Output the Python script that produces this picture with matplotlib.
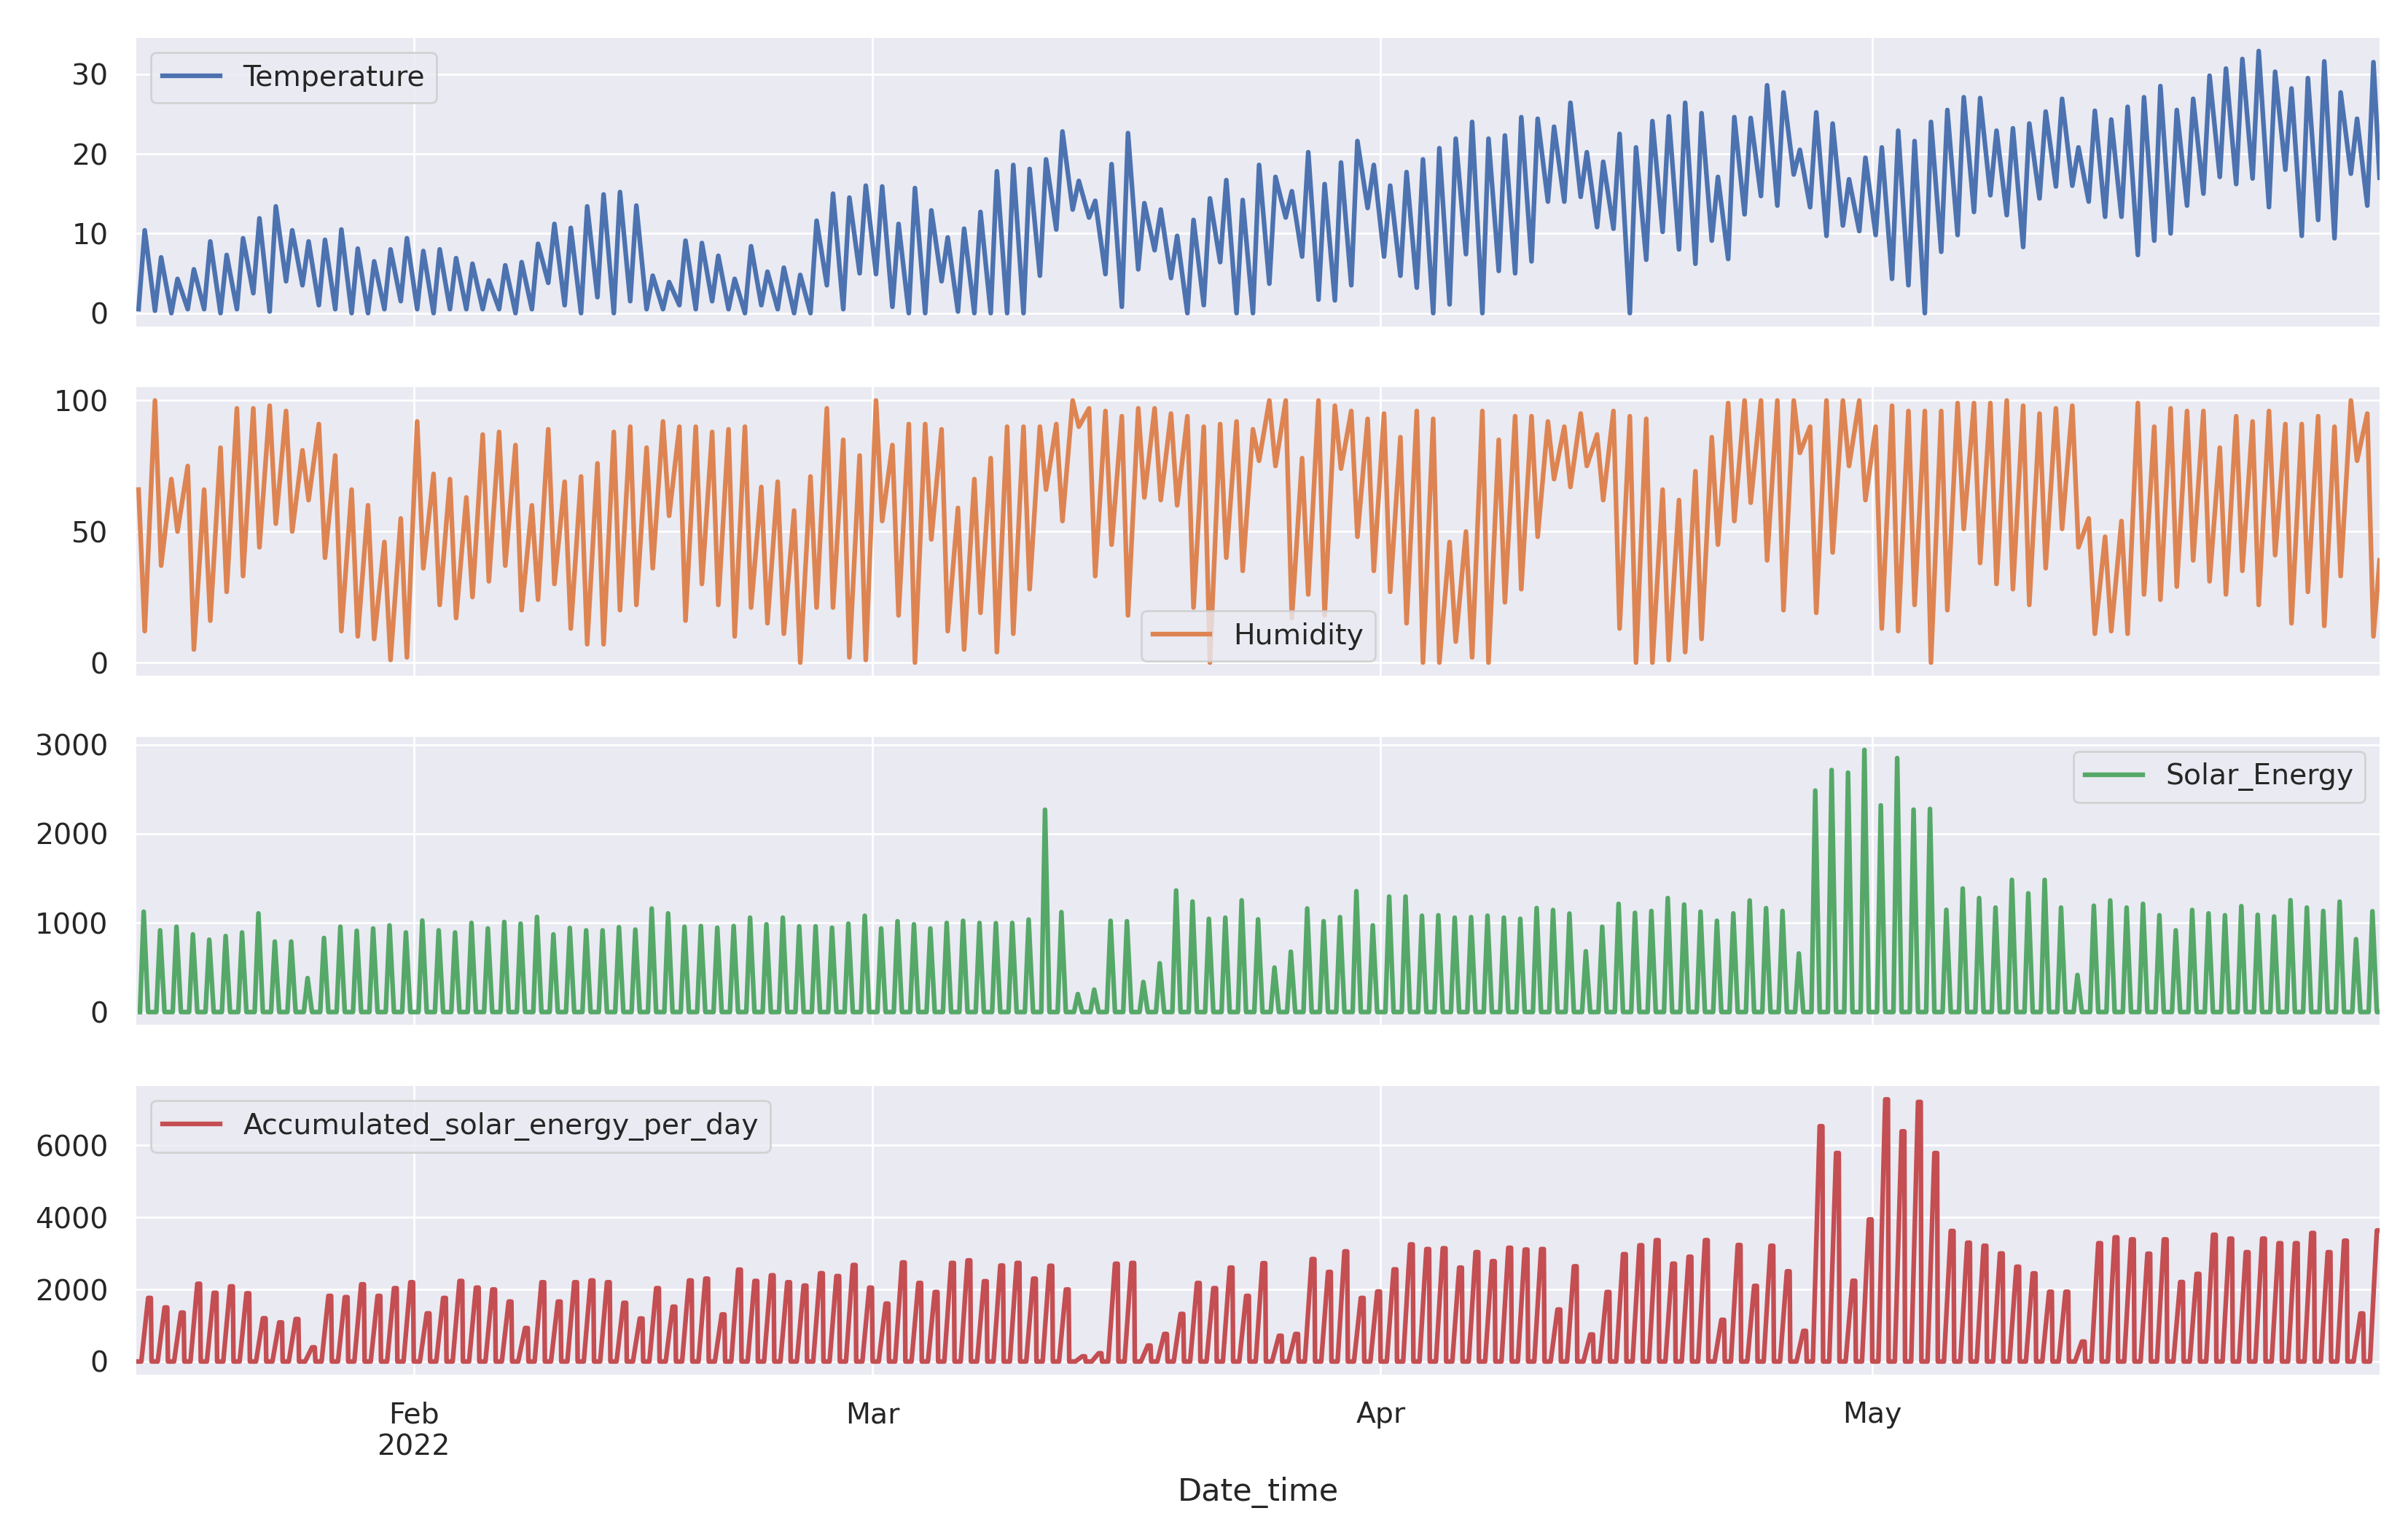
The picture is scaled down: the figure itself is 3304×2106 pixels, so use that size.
import numpy as np
import pandas as pd
import matplotlib
matplotlib.use('Agg')
import matplotlib.pyplot as plt
import matplotlib.dates as mdates
from matplotlib.ticker import FuncFormatter

# One value per day, 15 Jan 2022 .. 31 May 2022
temp_min = [0.5, 0.3, 0, 0.5, 0.5, 0, 0.5, 2.5, 0.2, 4.0,
            3.5, 1.0, 0.5, 0, 0, 0.5, 1.5, 0.5, 0, 0.5,
            0.5, 0.5, 0.5, 0, 0.5, 3.8, 1.0, 0, 2.0, 0,
            1.5, 0.5, 0.5, 1.0, 0.5, 1.5, 0.5, 0, 1.0, 0.5,
            0, 0, 3.5, 0.5, 5.0, 4.9, 0.8, 0, 0, 4.0,
            0.2, 0, 0, 0, 0, 4.7, 10.5, 13.0, 12.0, 4.9,
            0.8, 5.5, 7.9, 4.4, 0, 1.0, 6.4, 0, 0, 3.7,
            12.0, 7.1, 1.7, 1.6, 3.5, 13.2, 7.1, 4.7, 3.2, 0,
            1.1, 7.4, 0, 5.3, 5.0, 6.5, 14.0, 14.0, 14.6, 10.8,
            10.6, 0, 6.7, 10.2, 8.0, 6.2, 9.1, 6.8, 12.4, 14.7,
            13.5, 17.4, 13.3, 9.7, 11.0, 10.3, 9.8, 4.3, 3.5, 0,
            7.7, 9.8, 12.7, 14.8, 12.3, 8.3, 14.4, 15.9, 16.0, 14.0,
            12.1, 12.1, 7.3, 9.1, 10.0, 13.5, 15.0, 17.1, 16.2, 16.9,
            13.3, 18.0, 9.7, 11.7, 9.4, 17.5, 13.5]
temp_max = [10.4, 7.0, 4.3, 5.5, 9.0, 7.3, 9.4, 11.9, 13.4, 10.4,
            9.0, 9.2, 10.5, 8.1, 6.5, 8.0, 9.4, 7.8, 8.0, 6.9,
            6.2, 4.1, 6.0, 6.4, 8.7, 11.2, 10.7, 13.4, 14.9, 15.2,
            13.5, 4.7, 3.9, 9.1, 8.8, 7.2, 4.3, 8.4, 5.2, 5.7,
            4.8, 11.6, 15.0, 14.5, 16.0, 15.9, 11.2, 15.7, 12.9, 9.5,
            10.6, 12.7, 17.8, 18.6, 18.1, 19.3, 22.8, 16.6, 14.1, 18.7,
            22.6, 13.8, 13.0, 9.7, 11.7, 14.4, 16.7, 14.2, 18.6, 17.1,
            15.3, 20.2, 16.2, 18.9, 21.6, 18.6, 16.0, 17.7, 19.3, 20.7,
            21.9, 24.0, 21.9, 22.3, 24.6, 24.4, 23.4, 26.4, 20.2, 19.0,
            22.5, 20.8, 24.1, 24.7, 26.4, 25.1, 17.1, 24.6, 24.5, 28.6,
            27.7, 20.5, 25.2, 23.8, 16.8, 19.5, 20.8, 22.9, 21.6, 24.0,
            25.5, 27.1, 27.0, 22.9, 23.2, 23.8, 25.3, 26.9, 20.8, 25.4,
            24.3, 25.9, 27.1, 28.5, 25.5, 26.9, 29.8, 30.7, 31.9, 32.9,
            30.3, 28.2, 29.5, 31.6, 27.7, 24.4, 31.5]
temp_end = 17.0

hum_max = [66, 100, 70, 75, 66, 82, 97, 97, 98, 96,
           81, 91, 79, 66, 60, 46, 55, 92, 72, 70,
           63, 87, 88, 83, 60, 89, 69, 71, 76, 88,
           90, 82, 92, 90, 90, 88, 89, 90, 67, 69,
           58, 71, 97, 85, 79, 100, 83, 91, 91, 89,
           59, 70, 78, 90, 90, 90, 91, 100, 97, 96,
           94, 97, 97, 95, 94, 90, 91, 92, 89, 100,
           100, 78, 100, 98, 96, 93, 95, 86, 96, 93,
           46, 50, 96, 85, 94, 94, 92, 90, 95, 87,
           96, 94, 93, 66, 62, 73, 86, 99, 100, 100,
           100, 100, 90, 100, 100, 100, 90, 98, 96, 96,
           96, 99, 99, 99, 100, 98, 95, 97, 98, 55,
           48, 54, 99, 90, 97, 96, 96, 82, 94, 92,
           96, 91, 91, 94, 90, 100, 95]
hum_min = [12, 37, 50, 5, 16, 27, 33, 44, 53, 50,
           62, 40, 12, 10, 9, 1, 2, 36, 22, 17,
           25, 31, 37, 20, 24, 30, 13, 7, 7, 20,
           22, 36, 56, 16, 30, 22, 10, 21, 15, 11,
           0, 21, 21, 2, 1, 54, 18, 0, 47, 12,
           5, 19, 4, 11, 28, 66, 54, 90, 33, 45,
           18, 63, 62, 60, 21, 0, 40, 35, 77, 75,
           17, 26, 18, 74, 48, 35, 27, 15, 0, 0,
           8, 2, 0, 23, 28, 48, 70, 67, 75, 62,
           13, 0, 0, 1, 4, 9, 45, 54, 61, 39,
           20, 80, 19, 42, 75, 62, 13, 12, 22, 0,
           20, 51, 38, 30, 28, 22, 36, 51, 44, 11,
           12, 11, 26, 24, 29, 39, 31, 26, 35, 22,
           41, 15, 27, 14, 33, 77, 10]
hum_end = 39

solar_peak = [1126, 917, 957, 871, 812, 853, 893, 1107, 791, 791,
              381, 831, 957, 912, 938, 973, 893, 1027, 917, 893,
              1000, 938, 1011, 992, 1067, 871, 944, 917, 917, 952,
              925, 1161, 1107, 957, 965, 946, 965, 1059, 984, 1059,
              962, 962, 946, 992, 1080, 938, 1019, 984, 938, 1000,
              1024, 1000, 997, 1000, 1038, 2270, 1121, 202, 251, 1024,
              1019, 337, 547, 1364, 1240, 1046, 1059, 1253, 1040, 499,
              677, 1162, 1019, 1065, 1356, 973, 1296, 1296, 1081, 1086,
              1059, 1065, 1081, 1059, 1046, 1167, 1145, 1105, 682, 957,
              1214, 1113, 1134, 1279, 1206, 1126, 1024, 1107, 1252, 1166,
              1134, 657, 2485, 2716, 2686, 2941, 2319, 2850, 2271, 2279,
              1147, 1386, 1279, 1172, 1483, 1332, 1483, 1172, 416, 1193,
              1252, 1172, 1214, 1086, 917, 1145, 1107, 1086, 1188, 1091,
              1072, 1255, 1172, 1134, 1239, 818, 1131]

acc_solar = [1764, 1500, 1357, 2157, 1907, 2086, 1893, 1200, 1086, 1179,
             393, 1821, 1786, 2143, 1821, 2036, 2200, 1336, 1764, 2236,
             2050, 2000, 1664, 929, 2200, 1664, 2200, 2250, 2200, 1629,
             1193, 2036, 1521, 2250, 2300, 1307, 2550, 2236, 2393, 2200,
             2107, 2450, 2371, 2679, 2050, 1607, 2750, 2180, 1929, 2736,
             2807, 2229, 2664, 2736, 2300, 2657, 2000, 143, 229, 2714,
             2736, 443, 764, 1321, 2179, 2036, 2607, 1821, 2729, 714,
             764, 2843, 2486, 3057, 1764, 1943, 2557, 3250, 3121, 3143,
             2607, 3036, 2786, 3157, 3107, 3121, 1443, 2643, 750, 1929,
             2979, 3227, 3369, 2716, 2908, 3369, 1156, 3234, 2099, 3213,
             2504, 851, 6532, 5787, 2241, 3943, 7277, 6390, 7206, 5787,
             3624, 3298, 3213, 3000, 2631, 2447, 1936, 1936, 553, 3284,
             3447, 3390, 2993, 3390, 2206, 2433, 3518, 3411, 3035, 3411,
             3284, 3284, 3567, 3035, 3355, 1333, 3638]

columns = ['Temperature', 'Humidity', 'Solar_Energy', 'Accumulated_solar_energy_per_day']
colors = ['#4C72B0', '#DD8452', '#55A868', '#C44E52']

days = pd.date_range('2022-01-15', periods=len(temp_max), freq='D')
n = len(days)
zeros = [0] * n
start = days[0] + pd.Timedelta(hours=2)
end = days[-1] + pd.Timedelta(hours=23)


def daily_series(hours, values, last=None):
    # interleave the per-day samples taken at the given hours of each day
    offs = np.array([pd.Timedelta(hours=h).to_timedelta64() for h in hours])
    t = (days.values[:, None] + offs[None, :]).ravel()
    v = np.column_stack(values).ravel().astype(float)
    if last is not None:
        t = np.append(t, np.datetime64(end))
        v = np.append(v, last)
    return t, v


series = [
    daily_series([5, 14], [temp_min, temp_max], temp_end),
    daily_series([5, 14], [hum_max, hum_min], hum_end),
    daily_series([7, 12.5, 19], [zeros, solar_peak, zeros], 0),
    daily_series([0, 9, 19, 23], [zeros, zeros, acc_solar, acc_solar]),
]

plt.rcParams.update({
    'font.family': 'DejaVu Sans',
    'axes.facecolor': '#EAEAF2',
    'axes.edgecolor': 'white',
    'axes.linewidth': 0,
    'axes.grid': True,
    'grid.color': 'white',
    'grid.linewidth': 1.0,
    'xtick.major.size': 0,
    'ytick.major.size': 0,
    'xtick.minor.size': 0,
    'text.color': '.15',
    'xtick.color': '.15',
    'ytick.color': '.15',
    'axes.labelcolor': '.15',
    'xtick.labelsize': 14.2,
    'ytick.labelsize': 14.2,
    'legend.fontsize': 14.2,
    'axes.labelsize': 15.5,
})

fig, axes = plt.subplots(4, 1, sharex=True, figsize=(16.52, 10.53), dpi=200)
fig.subplots_adjust(left=0.0567, right=0.9882, top=0.9753, bottom=0.1045, hspace=0.212)

yticks = [[0, 10, 20, 30], [0, 50, 100], [0, 1000, 2000, 3000], [0, 2000, 4000, 6000]]
legend_locs = ['upper left', 'lower center', 'upper right', 'upper left']

for ax, (t, v), name, c, yt, loc in zip(axes, series, columns, colors, yticks, legend_locs):
    ax.plot(t, v, color=c, lw=2.3, label=name)
    ax.set_yticks(yt)
    ax.tick_params(axis='y', pad=14)
    ax.tick_params(axis='x', pad=13)
    ax.legend(loc=loc)
    for s in ax.spines.values():
        s.set_visible(False)

axes[-1].set_xlim(start, end)
axes[-1].xaxis.set_major_locator(mdates.MonthLocator(bymonthday=1))


def month_label(x, pos):
    d = mdates.num2date(x)
    return d.strftime('%b\n%Y') if pos == 0 else d.strftime('%b')


axes[-1].xaxis.set_major_formatter(FuncFormatter(month_label))
axes[-1].set_xlabel('Date_time', labelpad=8)

fig.savefig('out.png', dpi=200)
